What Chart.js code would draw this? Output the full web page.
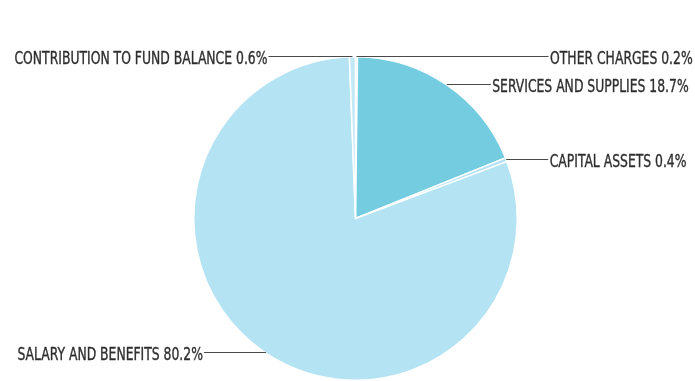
<!DOCTYPE html>
<html>
<head>
<meta charset="utf-8">
<script src="https://cdn.jsdelivr.net/npm/chart.js@4"></script>
<style>
  html, body { margin: 0; padding: 0; background: #fff; }
  #wrap { width: 695px; height: 381px; position: relative; }
</style>
</head>
<body>
<div id="wrap"><canvas id="budget"></canvas></div>
<script>
const CATEGORIES = [
    "OTHER CHARGES",
    "SERVICES AND SUPPLIES",
    "CAPITAL ASSETS",
    "SALARY AND BENEFITS",
    "CONTRIBUTION TO FUND BALANCE"
];
const PERCENTS = [0.2, 18.7, 0.4, 80.2, 0.6];

const SLICE_COLORS = ["#c4e9f6", "#74cce0", "#b4e3f4", "#b4e3f4", "#c4e9f6"];
// horizontal leader length from the rim to each label
const LEADER_LENGTHS = [192, 44, 42, 62, 84];

const labelFont = '17.5px "Liberation Sans Narrow", "DejaVu Sans Condensed", sans-serif';

const leaderLabels = {
    id: "leaderLabels",
    afterDraw(chart) {
        const ctx = chart.ctx;
        const arcs = chart.getDatasetMeta(0).data;
        ctx.save();
        ctx.font = labelFont;
        // squeeze text to a condensed look
        const squeeze = 253 / ctx.measureText("CONTRIBUTION TO FUND BALANCE 0.6%").width;
        arcs.forEach(function (arc, i) {
            const p = arc.getProps(["x", "y", "startAngle", "endAngle", "outerRadius"], true);
            const mid = (p.startAngle + p.endAngle) / 2;
            const sx = p.x + Math.cos(mid) * p.outerRadius;
            const sy = Math.round(p.y + Math.sin(mid) * p.outerRadius) - 0.5;
            const right = Math.cos(mid) >= 0;
            const ex = right ? sx + LEADER_LENGTHS[i] : sx - LEADER_LENGTHS[i];
            ctx.strokeStyle = "#4a4a4a";
            ctx.lineWidth = 1;
            ctx.beginPath();
            ctx.moveTo(sx, sy);
            ctx.lineTo(ex, sy);
            ctx.stroke();

            const text = CATEGORIES[i] + " " + PERCENTS[i] + "%";
            ctx.fillStyle = "#2e2e2e";
            ctx.strokeStyle = "#2e2e2e";
            ctx.lineWidth = 0.35;
            ctx.textBaseline = "alphabetic";
            ctx.textAlign = right ? "left" : "right";
            ctx.save();
            ctx.translate(right ? ex + 1.5 : ex - 1, sy + 7.5);
            ctx.scale(squeeze, 1);
            ctx.fillText(text, 0, 0);
            ctx.strokeText(text, 0, 0);
            ctx.restore();
        });
        ctx.restore();
    }
};

window.onload = function () {
    const ctx = document.getElementById("budget").getContext("2d");
    new Chart(ctx, {
        type: "pie",
        data: {
            labels: CATEGORIES,
            datasets: [{
                data: PERCENTS,
                backgroundColor: SLICE_COLORS,
                borderColor: "#ffffff",
                borderWidth: 1.5
            }]
        },
        options: {
            responsive: true,
            maintainAspectRatio: false,
            animation: false,
            layout: {
                padding: { left: 193, right: 177, top: 56, bottom: 0 }
            },
            plugins: {
                legend: { display: false },
                tooltip: { enabled: false }
            }
        },
        plugins: [leaderLabels]
    });
};
</script>
</body>
</html>
